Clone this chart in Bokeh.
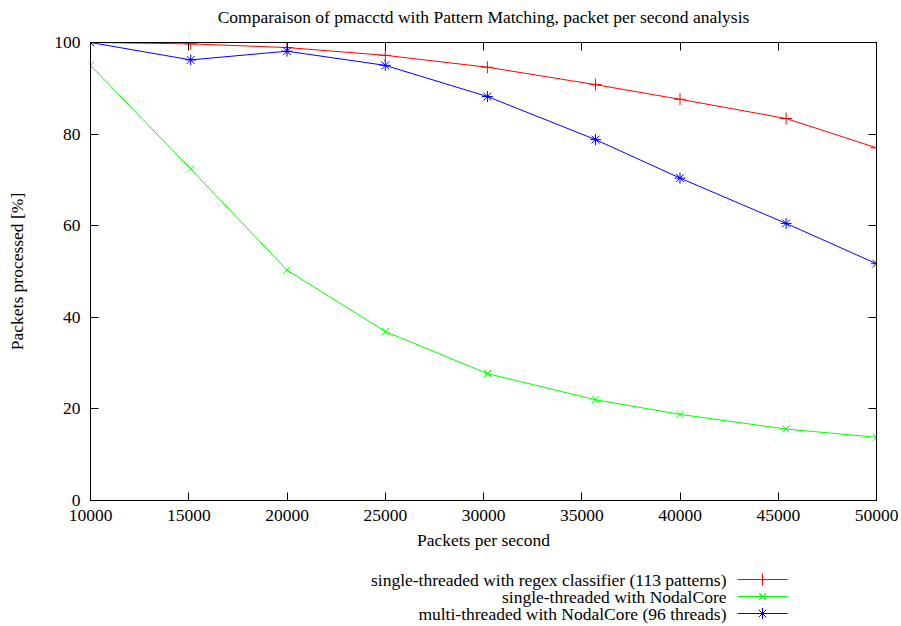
from bokeh.plotting import figure
from bokeh.models import Range1d, LinearAxis, FixedTicker, ColumnDataSource, CustomJSTickFormatter
from bokeh.layouts import column
from bokeh.embed import file_html
from bokeh.resources import INLINE
from bokeh.core.properties import value

# ---- data ----
pps = [10000, 15100, 20000, 25000, 30200, 35700, 40000, 45400, 50000]
regex_single = [100.0, 99.7, 98.9, 97.2, 94.6, 90.8, 87.6, 83.4, 77.0]
nodal_single = [95.0, 72.4, 50.3, 36.9, 27.7, 22.0, 18.8, 15.6, 13.8]
nodal_multi = [100.0, 96.2, 98.1, 95.0, 88.2, 78.8, 70.4, 60.5, 51.7]
series_names = [
    "single-threaded with regex classifier (113 patterns)",
    "single-threaded with NodalCore",
    "multi-threaded with NodalCore (96 threads)",
]
title_text = "Comparaison of pmacctd with Pattern Matching, packet per second analysis"
x_ticks = [10000, 15000, 20000, 25000, 30000, 35000, 40000, 45000, 50000]
y_ticks = [0, 20, 40, 60, 80, 100]

FONT = "Liberation Serif"
FS = "17.5px"
colors = ["#ff0000", "#00ff00", "#0000ff"]
markers = ["cross", "x", "asterisk"]
msizes = [12, 10, 11]

# the column aligns the frames of its plots horizontally (90..876 px),
# so strips use a pixel-like x range spanning that frame
FRAME_L, FRAME_R = 90, 876

# ---- title strip ----
tfig = figure(width=901, height=28, output_backend="svg", toolbar_location=None,
              x_range=Range1d(FRAME_L, FRAME_R), y_range=Range1d(28, 0),
              x_axis_type=None, y_axis_type=None,
              min_border_left=FRAME_L, min_border_right=901 - FRAME_R,
              min_border_top=0, min_border_bottom=0)
tfig.outline_line_color = None
tfig.grid.visible = False
tfig.text(x=[483], y=[16], text=[title_text], text_align="center",
          text_baseline="middle", text_font=value(FONT), text_font_size=FS,
          text_color="#000000")

# ---- main plot ----
p = figure(width=901, height=532, output_backend="svg", toolbar_location=None,
           x_range=Range1d(10000, 50000), y_range=Range1d(0, 100),
           min_border_left=FRAME_L, min_border_right=901 - FRAME_R, min_border_top=14,
           min_border_bottom=60)
p.grid.visible = False
p.outline_line_color = "#000000"
p.outline_line_width = 1

def style_axis(ax, ticks, labels=True):
    ax.ticker = FixedTicker(ticks=ticks)
    ax.major_tick_in = 8
    ax.major_tick_out = 0
    ax.minor_tick_line_color = None
    ax.axis_line_color = "#000000"
    ax.major_tick_line_color = "#000000"
    ax.major_label_text_font = FONT
    ax.major_label_text_font_size = FS
    ax.major_label_text_color = "#000000"
    ax.axis_label_text_font = FONT
    ax.axis_label_text_font_size = FS
    ax.axis_label_text_font_style = "normal"
    ax.axis_label_text_color = "#000000"
    if not labels:
        ax.formatter = CustomJSTickFormatter(code="return '';")
        ax.major_label_standoff = 0

style_axis(p.xaxis[0], x_ticks)
style_axis(p.yaxis[0], y_ticks)
p.xaxis[0].axis_label = "Packets per second"
p.yaxis[0].axis_label = "Packets processed [%]"
p.xaxis[0].major_label_standoff = 9
p.xaxis[0].axis_label_standoff = 6
p.yaxis[0].major_label_standoff = 10
p.yaxis[0].axis_label_standoff = 24

top_ax = LinearAxis()
style_axis(top_ax, x_ticks, labels=False)
p.add_layout(top_ax, "above")
right_ax = LinearAxis()
style_axis(right_ax, y_ticks, labels=False)
p.add_layout(right_ax, "right")

all_series = [regex_single, nodal_single, nodal_multi]
for ys, c, m, s in zip(all_series, colors, markers, msizes):
    src = ColumnDataSource(dict(x=pps, y=ys))
    p.line("x", "y", source=src, line_color=c, line_width=1)
    p.scatter("x", "y", source=src, marker=m, size=s, line_color=c, line_width=1)

# ---- legend (label left, sample right, like gnuplot) ----
leg = figure(width=901, height=66, output_backend="svg", toolbar_location=None,
             x_range=Range1d(FRAME_L, FRAME_R), y_range=Range1d(66, 0),
             x_axis_type=None, y_axis_type=None,
             min_border_left=FRAME_L, min_border_right=901 - FRAME_R,
             min_border_top=0, min_border_bottom=0)
leg.outline_line_color = None
leg.grid.visible = False
row_y = [19, 36, 53]
leg.text(x=[726] * 3, y=row_y, text=series_names, text_align="right",
         text_baseline="middle", text_font=value(FONT), text_font_size=FS,
         text_color="#000000")
for yy, c, m, s in zip(row_y, colors, markers, msizes):
    leg.line([737, 787], [yy, yy], line_color=c, line_width=1)
    leg.scatter([762], [yy], marker=m, size=s, line_color=c, line_width=1)

layout = column(tfig, p, leg, spacing=0)
open("out.html", "w").write(file_html(layout, INLINE))
